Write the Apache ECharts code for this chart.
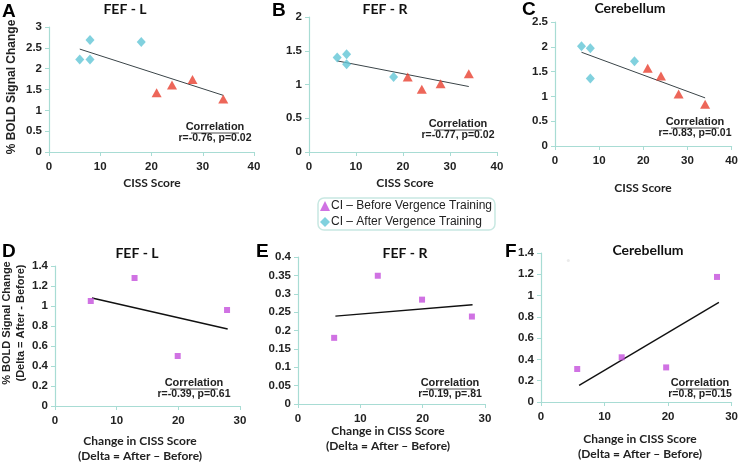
<!DOCTYPE html>
<html><head><meta charset="utf-8">
<script src="https://cdn.jsdelivr.net/npm/echarts@6/dist/echarts.min.js"></script>
<style>html,body{margin:0;padding:0;background:#fff}#c{width:741px;height:463px}</style>
</head><body><div id="c"></div>
<script>
// ---- data ----
const aAfter  = [[6,2.22],[8,2.69],[8,2.22],[18,2.64]];
const aBefore = [[21,1.42],[24,1.61],[28,1.74],[34,1.27]];
const aTrend  = [[6,2.47],[34,1.36]];
const bAfter  = [[6,1.40],[8,1.45],[8,1.30],[18,1.11]];
const bBefore = [[21,1.11],[24,0.93],[28,1.01],[34,1.16]];
const bTrend  = [[6,1.35],[34,0.97]];
const cAfter  = [[6,2.01],[8,1.97],[8,1.36],[18,1.71]];
const cBefore = [[21,1.57],[24,1.41],[28,1.05],[34,0.84]];
const cTrend  = [[6,1.89],[34,0.97]];
const dDelta  = [[5.8,1.05],[12.9,1.28],[19.9,0.50],[27.9,0.96]];
const dTrend  = [[6,1.08],[28,0.77]];
const eDelta  = [[5.8,0.18],[12.8,0.349],[19.9,0.284],[27.9,0.238]];
const eTrend  = [[6,0.239],[28,0.27]];
const fDelta  = [[5.7,0.31],[12.7,0.42],[19.7,0.325],[27.7,1.175]];
const fStray  = [[4.3,1.33]];
const fTrend  = [[6,0.156],[28,0.936]];
const titles = ['FEF - L','FEF - R','Cerebellum','FEF - L','FEF - R','Cerebellum'];
const letters = ['A','B','C','D','E','F'];
const corrTexts = ['r=-0.76, p=0.02','r=-0.77, p=0.02','r=-0.83, p=0.01','r=-0.39, p=0.61','r=0.19, p=.81','r=0.8, p=0.15'];
const yMax = [3,2,2.5,1.4,0.4,1.4];
const yStep = [0.5,0.5,0.5,0.2,0.05,0.2];
const xMax = [40,40,40,30,30,30];
const BEFORE = 'CI \u2013 Before Vergence Training';
const AFTER = 'CI \u2013 After Vergence Training';

// ---- layout ----
const grids = [
  {left:49, top:27, width:205, height:125},
  {left:309, top:17, width:188, height:135},
  {left:555, top:22, width:178, height:124},
  {left:55, top:266, width:185, height:140},
  {left:298, top:257, width:187, height:147},
  {left:541, top:253, width:192, height:149}
];
const axisCol = '#a8dcd4';
const labelFont = {fontFamily:'Liberation Sans', fontWeight:'bold', fontSize:11.5, color:'#222'};
const xAxes = grids.map((g,i)=>({
  gridIndex:i, type:'value', min:0, max:xMax[i], interval:10,
  axisLine:{lineStyle:{color:axisCol,width:1.2}}, axisTick:{lineStyle:{color:axisCol},length:4},
  splitLine:{show:false}, axisLabel:Object.assign({margin:9},labelFont)
}));
const yAxes = grids.map((g,i)=>({
  gridIndex:i, type:'value', min:0, max:yMax[i], interval:yStep[i],
  axisLine:{show:true,lineStyle:{color:axisCol,width:1.2}}, axisTick:{show:true,lineStyle:{color:axisCol},length:4},
  splitLine:{show:false}, axisLabel:Object.assign({margin:7},labelFont)
}));
const red = '#e8402f', cyan = '#62c6d6', mag = '#c44fdc';
const series = [];
[[aBefore,aAfter,aTrend],[bBefore,bAfter,bTrend],[cBefore,cAfter,cTrend]].forEach((p,i)=>{
  series.push({name:AFTER,type:'scatter',xAxisIndex:i,yAxisIndex:i,data:p[1],symbol:'diamond',symbolSize:[9,10],itemStyle:{color:cyan},z:3});
  series.push({name:BEFORE,type:'scatter',xAxisIndex:i,yAxisIndex:i,data:p[0],symbol:'triangle',symbolSize:[10,9],itemStyle:{color:red},z:3});
  series.push({type:'line',xAxisIndex:i,yAxisIndex:i,data:p[2],symbol:'none',lineStyle:{color:'#3a4448',width:1},silent:true,z:2});
});
[[dDelta,dTrend],[eDelta,eTrend],[fDelta,fTrend]].forEach((p,k)=>{
  const i=k+3;
  series.push({type:'scatter',xAxisIndex:i,yAxisIndex:i,data:p[0],symbol:'rect',symbolSize:6,itemStyle:{color:mag},z:3});
  series.push({type:'line',xAxisIndex:i,yAxisIndex:i,data:p[1],symbol:'none',lineStyle:{color:'#111',width:1.4},silent:true,z:2});
});
series.push({type:'scatter',xAxisIndex:5,yAxisIndex:5,data:fStray,symbol:'circle',symbolSize:3,itemStyle:{color:'#e6e6e6'},z:1});

// ---- text graphics ----
const g = [];
const titleFont = 'bold 14px Lato';
const titlePos = [[125,9],[385,9],[630,8],[137,253],[405,253],[648,250]];
titlePos.forEach((p,i)=>g.push({type:'text',x:p[0],y:p[1],style:{text:titles[i],font:titleFont,fill:'#111',textAlign:'center',textVerticalAlign:'middle'}}));
const letterPos = [[2,12],[272,11],[522,10],[2,252],[256,252],[505,252]];
letterPos.forEach((p,i)=>g.push({type:'text',x:p[0],y:p[1],style:{text:letters[i],font:'bold 19px Liberation Sans',fill:'#000',textAlign:'left',textVerticalAlign:'middle'}}));
const corrPos = [[215,127],[458,124],[695,122],[194,383],[450,383],[700,383]];
corrPos.forEach((p,i)=>{
  g.push({type:'text',x:p[0],y:p[1],style:{text:'Correlation',font:'bold 11px Liberation Sans',fill:'#222',textAlign:'center',textVerticalAlign:'middle'}});
  g.push({type:'line',shape:{x1:p[0]-24,y1:p[1]+6,x2:p[0]+24,y2:p[1]+6},style:{stroke:'#222',lineWidth:0.8}});
  g.push({type:'text',x:p[0],y:p[1]+11,style:{text:corrTexts[i],font:'bold 10.5px Liberation Sans',fill:'#222',textAlign:'center',textVerticalAlign:'middle'}});
});
const xNamePos = [[152,183],[405,183],[643,188]];
xNamePos.forEach(p=>g.push({type:'text',x:p[0],y:p[1],style:{text:'CISS Score',font:'bold 12px Lato',fill:'#222',textAlign:'center',textVerticalAlign:'middle'}}));
const xNamePos2 = [[140,441],[388,431],[640,439]];
xNamePos2.forEach(p=>{
  g.push({type:'text',x:p[0],y:p[1],style:{text:'Change in CISS Score',font:'bold 12px Lato',fill:'#222',textAlign:'center',textVerticalAlign:'middle'}});
  g.push({type:'text',x:p[0],y:p[1]+15,style:{text:'(Delta = After \u2013 Before)',font:'bold 12px Lato',fill:'#222',textAlign:'center',textVerticalAlign:'middle'}});
});
g.push({type:'text',x:12,y:87,rotation:Math.PI/2,style:{text:'% BOLD Signal Change',font:'bold 12px Liberation Sans',fill:'#222',textAlign:'center',textVerticalAlign:'middle'}});
g.push({type:'text',x:7,y:323,rotation:Math.PI/2,style:{text:'% BOLD Signal Change',font:'bold 11px Liberation Sans',fill:'#222',textAlign:'center',textVerticalAlign:'middle'}});
g.push({type:'text',x:21,y:323,rotation:Math.PI/2,style:{text:'(Delta = After - Before)',font:'bold 11px Liberation Sans',fill:'#222',textAlign:'center',textVerticalAlign:'middle'}});

const chart = echarts.init(document.getElementById('c'),null,{renderer:'canvas'});
chart.setOption({
  animation:false,
  grid:grids,
  xAxis:xAxes, yAxis:yAxes,
  legend:{
    orient:'vertical', left:318, top:198, width:175,
    padding:[2,3,2,2], itemGap:4, itemWidth:10, itemHeight:10,
    borderColor:'#c8e8e2', borderWidth:1.5, borderRadius:6,
    textStyle:{fontFamily:'Liberation Sans', fontSize:12, color:'#222', padding:[0,0,0,-4]},
    selectedMode:false,
    data:[
      {name:BEFORE, icon:'triangle', itemStyle:{color:mag}},
      {name:AFTER, icon:'diamond', itemStyle:{color:cyan}}
    ]
  },
  series:series,
  graphic:g
});
</script></body></html>
